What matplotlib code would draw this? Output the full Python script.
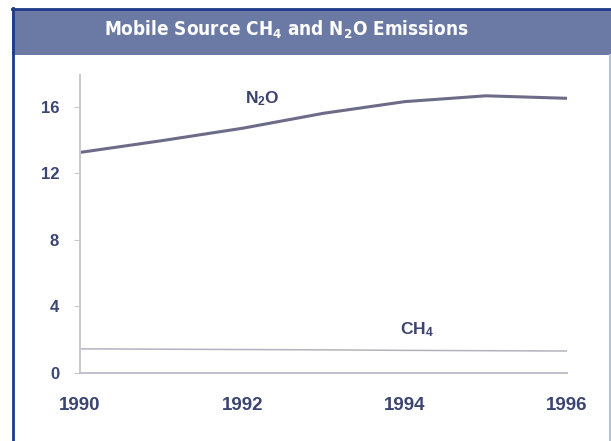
import matplotlib.pyplot as plt
from matplotlib.patches import Rectangle
from matplotlib.lines import Line2D
from matplotlib import font_manager

years = [1990, 1991, 1992, 1993, 1994, 1995, 1996]
n2o = [13.25, 13.95, 14.7, 15.6, 16.3, 16.65, 16.5]
ch4 = [1.45, 1.43, 1.41, 1.39, 1.36, 1.34, 1.32]
yticks = [0, 4, 8, 12, 16]
xticks = [1990, 1992, 1994, 1996]
title = 'Mobile Source CH$_4$ and N$_2$O Emissions'

W, H = 611, 441
plt.rcParams['font.family'] = ['Liberation Sans', 'DejaVu Sans']
plt.rcParams['mathtext.fontset'] = 'custom'
plt.rcParams['mathtext.rm'] = 'Liberation Sans:bold'
plt.rcParams['mathtext.bf'] = 'Liberation Sans:bold'
plt.rcParams['mathtext.default'] = 'bf'

# look for a narrow bold face for the title
cond = None
for f in font_manager.fontManager.ttflist:
  narrowish = ('Narrow' in f.name or 'Condensed' in f.name
               or f.stretch in ('condensed', 'semi-condensed', 'extra-condensed'))
  w = f.weight if isinstance(f.weight, int) else 700 if 'bold' in str(f.weight) else 400
  if narrowish and w >= 600 and f.style == 'normal':
    if cond is None or 'Liberation' in f.name:
      cond = f


def fx(px):
  return px / W


def fy(py):
  return 1 - py / H


fig = plt.figure(figsize=(W / 100, H / 100), dpi=100)
fig.patch.set_facecolor('white')

# title bar and frame
fig.patches.append(Rectangle((fx(12), fy(55)), fx(611) - fx(12), fy(9) - fy(55),
                             transform=fig.transFigure, facecolor='#6a7aa4',
                             edgecolor='none', zorder=0))
fig.lines.append(Line2D([fx(12.5), fx(12.5)], [fy(8), fy(441)], transform=fig.transFigure,
                        color='#1d3a8c', lw=2))
fig.lines.append(Line2D([fx(12), fx(611)], [fy(8.5), fy(8.5)], transform=fig.transFigure,
                        color='#1d3a8c', lw=2))
fig.lines.append(Line2D([fx(609.5), fx(609.5)], [fy(55), fy(441)], transform=fig.transFigure,
                        color='#b9bfd6', lw=1.5))

if cond is not None:
  pat = '{}:bold:stretch={}'.format(cond.name, cond.stretch)
  plt.rcParams['mathtext.rm'] = pat
  plt.rcParams['mathtext.bf'] = pat
  t = fig.text(fx(286), fy(30), title, color='white', fontsize=17, fontweight='bold',
               family=cond.name, stretch=cond.stretch, ha='center', va='center')
else:
  t = fig.text(fx(286), fy(30), title, color='white', fontsize=17, fontweight='bold',
               ha='center', va='center')
fig.canvas.draw()
tw = t.get_window_extent().width
t.set_fontsize(17 * 365 / tw)
fig.canvas.draw()
plt.rcParams['mathtext.rm'] = 'Liberation Sans:bold'
plt.rcParams['mathtext.bf'] = 'Liberation Sans:bold'

ax = fig.add_axes([fx(80), fy(373), fx(567) - fx(80), fy(75) - fy(373)])
ax.plot(years, n2o, color='#6c6c88', lw=2.2, solid_capstyle='butt')
ax.plot(years, ch4, color='#b3b3bd', lw=1.1)

ax.set_xlim(1990, 1996)
ax.set_ylim(0, 17.9)
ax.set_xticks(xticks)
ax.set_yticks(yticks)
ax.tick_params(axis='x', length=0, pad=17, labelsize=13.5, labelcolor='#3b4572')
ax.tick_params(axis='y', length=4, color='#c8c8d2', pad=11, labelsize=12,
               labelcolor='#3b4572')
for lab in ax.get_xticklabels() + ax.get_yticklabels():
  lab.set_fontweight('bold')

for s in ['top', 'right']:
  ax.spines[s].set_visible(False)
ax.spines['left'].set_color('#c8c8d2')
ax.spines['bottom'].set_color('#c0c0cc')
ax.spines['left'].set_linewidth(1.4)
ax.spines['bottom'].set_linewidth(1.4)

ax.text(1992.25, 16.5, 'N$_2$O', color='#3b4272', fontsize=12.5, fontweight='bold',
        ha='center', va='center')
ax.text(1994.15, 2.6, 'CH$_4$', color='#3b4272', fontsize=12.5, fontweight='bold',
        ha='center', va='center')

fig.savefig('out.png', dpi=100)
